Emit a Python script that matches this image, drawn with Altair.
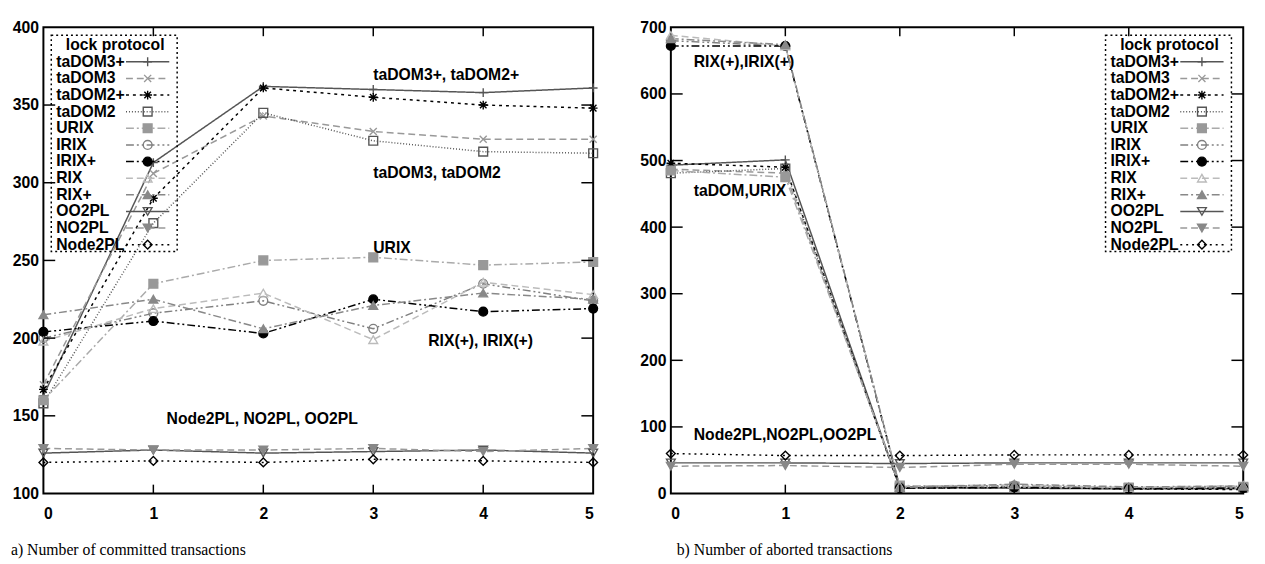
import altair as alt
import pandas as pd

xs = [0, 1, 2, 3, 4, 5]
series = ["taDOM3+", "taDOM3", "taDOM2+", "taDOM2", "URIX", "IRIX", "IRIX+",
          "RIX", "RIX+", "OO2PL", "NO2PL", "Node2PL"]

# a) committed transactions
committed = {
    "taDOM3+": [163, 313, 362, 360, 358, 361],
    "taDOM3":  [170, 306, 343, 333, 328, 328],
    "taDOM2+": [167, 290, 361, 355, 350, 348],
    "taDOM2":  [158, 274, 345, 327, 320, 319],
    "URIX":    [160, 235, 250, 252, 247, 249],
    "IRIX":    [200, 216, 224, 206, 235, 224],
    "IRIX+":   [204, 211, 203, 225, 217, 219],
    "RIX":     [198, 219, 229, 199, 236, 228],
    "RIX+":    [215, 225, 206, 221, 229, 225],
    "OO2PL":   [126, 128, 126, 127, 128, 126],
    "NO2PL":   [129, 128, 128, 129, 127, 129],
    "Node2PL": [120, 121, 120, 122, 121, 120],
}
# b) aborted transactions
aborted = {
    "taDOM3+": [493, 501, 9, 8, 7, 7],
    "taDOM3":  [487, 481, 10, 9, 8, 8],
    "taDOM2+": [496, 490, 8, 9, 7, 6],
    "taDOM2":  [481, 488, 9, 10, 8, 9],
    "URIX":    [485, 475, 12, 10, 9, 10],
    "IRIX":    [680, 672, 10, 12, 8, 9],
    "IRIX+":   [672, 672, 8, 9, 7, 8],
    "RIX":     [688, 672, 11, 13, 9, 12],
    "RIX+":    [683, 674, 9, 14, 10, 11],
    "OO2PL":   [46, 46, 45, 46, 46, 46],
    "NO2PL":   [41, 42, 39, 44, 44, 41],
    "Node2PL": [60, 57, 57, 58, 58, 58],
}

ann_a_text = ["taDOM3+, taDOM2+", "taDOM3, taDOM2", "URIX", "RIX(+), IRIX(+)", "Node2PL, NO2PL, OO2PL"]
ann_a_x = [3.0, 3.0, 3.0, 3.5, 1.12]
ann_a_y = [369, 306, 258, 198, 148]

ann_b_text = ["RIX(+),IRIX(+)", "taDOM,URIX", "Node2PL,NO2PL,OO2PL"]
ann_b_x = [0.2, 0.2, 0.2]
ann_b_y = [648, 454, 87]

line_colors = ["#555555", "#999999", "#000000", "#555555", "#aaaaaa", "#808080",
               "#000000", "#bbbbbb", "#888888", "#555555", "#999999", "#000000"]
dashes = [[1, 0], [7, 4], [3, 4], [1, 2], [8, 3, 2, 3], [8, 3, 2, 3, 2, 3],
          [8, 3, 2, 3, 2, 3], [7, 4], [8, 3, 2, 3], [1, 0], [7, 4], [2, 4]]
PLUS = "M-1,0H1M0,-1V1"
CROSS = "M-0.8,-0.8L0.8,0.8M-0.8,0.8L0.8,-0.8"
STAR = "M-1,0H1M0,-1V1M-0.75,-0.75L0.75,0.75M-0.75,0.75L0.75,-0.75"
shapes = [PLUS, CROSS, STAR, "square", "square", "circle", "circle",
          "triangle-up", "triangle-up", "triangle-down", "triangle-down", "diamond"]
point_strokes = ["#555555", "#999999", "#000000", "#555555", "#999999", "#808080",
                 "#000000", "#bbbbbb", "#888888", "#555555", "#888888", "#000000"]
point_fills = ["transparent", "transparent", "transparent", "transparent", "#999999",
               "transparent", "#000000", "transparent", "#888888", "transparent",
               "#888888", "transparent"]

FONT = "Liberation Sans"
SERIF = "Liberation Serif"
FS = 16


def long_df(d):
    rows = []
    for s in series:
        for x, v in zip(xs, d[s]):
            rows.append({"x": x, "v": v, "sL": s, "sP": s})
    return pd.DataFrame(rows)


def panel(d, ydom, yticks, inner_y, W, H, lx, ann_text, ann_x, ann_y, caption, cap_dx):
    df = long_df(d)
    xsc = alt.Scale(domain=[0, 5], nice=False)
    ysc = alt.Scale(domain=ydom, nice=False, zero=False)
    xaxis = alt.Axis(values=xs, title=None, labelPadding=12, format="d")
    yaxis = alt.Axis(values=yticks, title=None, labelPadding=5, format="d")

    cscale = alt.Scale(domain=series, range=line_colors)
    dscale = alt.Scale(domain=series, range=dashes)
    shscale = alt.Scale(domain=series, range=shapes)
    stscale = alt.Scale(domain=series, range=point_strokes)
    fscale = alt.Scale(domain=series, range=point_fills)

    lines = alt.Chart(df).mark_line(strokeWidth=1.5).encode(
        x=alt.X("x:Q", scale=xsc, axis=xaxis),
        y=alt.Y("v:Q", scale=ysc, axis=yaxis),
        color=alt.Color("sL:N", scale=cscale, legend=None),
        strokeDash=alt.StrokeDash("sL:N", scale=dscale, legend=None),
    )
    pts = alt.Chart(df).mark_point(size=80, strokeWidth=1.4, opacity=1).encode(
        x="x:Q", y=alt.Y("v:Q", scale=ysc, axis=None),
        shape=alt.Shape("sP:N", scale=shscale, legend=None),
        stroke=alt.Stroke("sP:N", scale=stscale, legend=None),
        fill=alt.Fill("sP:N", scale=fscale, legend=None),
    )
    ann = alt.Chart(pd.DataFrame({"x": ann_x, "y": ann_y, "t": ann_text})).mark_text(
        align="left", baseline="middle", font=FONT, fontSize=FS, fontWeight="bold", color="black"
    ).encode(x="x:Q", y=alt.Y("y:Q", scale=ysc, axis=None), text="t:N")

    xt = pd.DataFrame({"t": xs[1:-1]})
    yt = pd.DataFrame({"t": inner_y})
    tb = alt.Chart(xt).mark_rule(color="black", strokeWidth=1.5).encode(
        x="t:Q", y=alt.value(H), y2=alt.value(H - 9))
    tt = alt.Chart(xt).mark_rule(color="black", strokeWidth=1.5).encode(
        x="t:Q", y=alt.value(0), y2=alt.value(9))
    tl = alt.Chart(yt).mark_rule(color="black", strokeWidth=1.5).encode(
        y=alt.Y("t:Q", scale=ysc, axis=None), x=alt.value(0), x2=alt.value(12))
    tr = alt.Chart(yt).mark_rule(color="black", strokeWidth=1.5).encode(
        y=alt.Y("t:Q", scale=ysc, axis=None), x=alt.value(W), x2=alt.value(W - 12))

    # legend box (label left, line sample with marker right)
    leg = pd.DataFrame({"sL": series, "sP": series, "label": series})
    rowy = alt.Scale(type="point", domain=series, range=[35, 221], padding=0)
    one = pd.DataFrame({"t": ["lock protocol"]})
    box = alt.Chart(one).mark_rect(fillOpacity=0, stroke="black", strokeDash=[2, 3],
                                   strokeWidth=1.5).encode(
        x=alt.value(lx), x2=alt.value(lx + 128), y=alt.value(8), y2=alt.value(228))
    ltitle = alt.Chart(one).mark_text(align="center", baseline="middle", font=FONT,
                                      fontSize=FS, fontWeight="bold", color="black").encode(
        x=alt.value(lx + 65), y=alt.value(18), text="t:N")
    lrule = alt.Chart(leg).mark_rule(strokeWidth=1.5).encode(
        x=alt.value(lx + 76), x2=alt.value(lx + 120),
        y=alt.Y("sL:N", scale=rowy, axis=None),
        color=alt.Color("sL:N", scale=cscale, legend=None),
        strokeDash=alt.StrokeDash("sL:N", scale=dscale, legend=None),
    )
    lpts = alt.Chart(leg).mark_point(size=80, strokeWidth=1.4, opacity=1).encode(
        x=alt.value(lx + 98),
        y=alt.Y("sP:N", scale=rowy, axis=None),
        shape=alt.Shape("sP:N", scale=shscale, legend=None),
        stroke=alt.Stroke("sP:N", scale=stscale, legend=None),
        fill=alt.Fill("sP:N", scale=fscale, legend=None),
    )
    ltext = alt.Chart(leg).mark_text(align="left", baseline="middle", font=FONT,
                                     fontSize=FS, fontWeight="bold", color="black").encode(
        x=alt.value(lx + 5), y=alt.Y("label:N", scale=rowy, axis=None), text="label:N")

    return alt.layer(lines, pts, ann, tb, tt, tl, tr, box, ltitle, lrule, lpts, ltext).resolve_scale(
        y="independent"
    ).properties(
        width=W, height=H,
        title=alt.TitleParams(caption, orient="bottom", anchor="start", frame="group",
                              dx=cap_dx, offset=22, font=SERIF, fontSize=16,
                              fontWeight="normal", color="black"),
    )


H = 474
left = panel(committed, [100, 400], [100, 150, 200, 250, 300, 350, 400],
             [150, 200, 250, 300, 350], 559, H, 8,
             ann_a_text, ann_a_x, ann_a_y, "a) Number of committed transactions", -33)
right = panel(aborted, [0, 700], [0, 100, 200, 300, 400, 500, 600, 700],
              [100, 200, 300, 400, 500, 600], 582, H, 442,
              ann_b_text, ann_b_x, ann_b_y, "b) Number of aborted transactions", 6)

chart = alt.hconcat(left, right, spacing=37).configure(
    padding={"left": 2, "top": 6, "right": 5, "bottom": 0}
).configure_view(stroke="black", strokeWidth=2).configure_axis(
    labelFont=FONT, labelFontSize=FS, labelFontWeight="bold", labelColor="black",
    ticks=False, grid=False, domain=False
)

chart.save("out.html", embed_options={"renderer": "svg", "actions": False})
